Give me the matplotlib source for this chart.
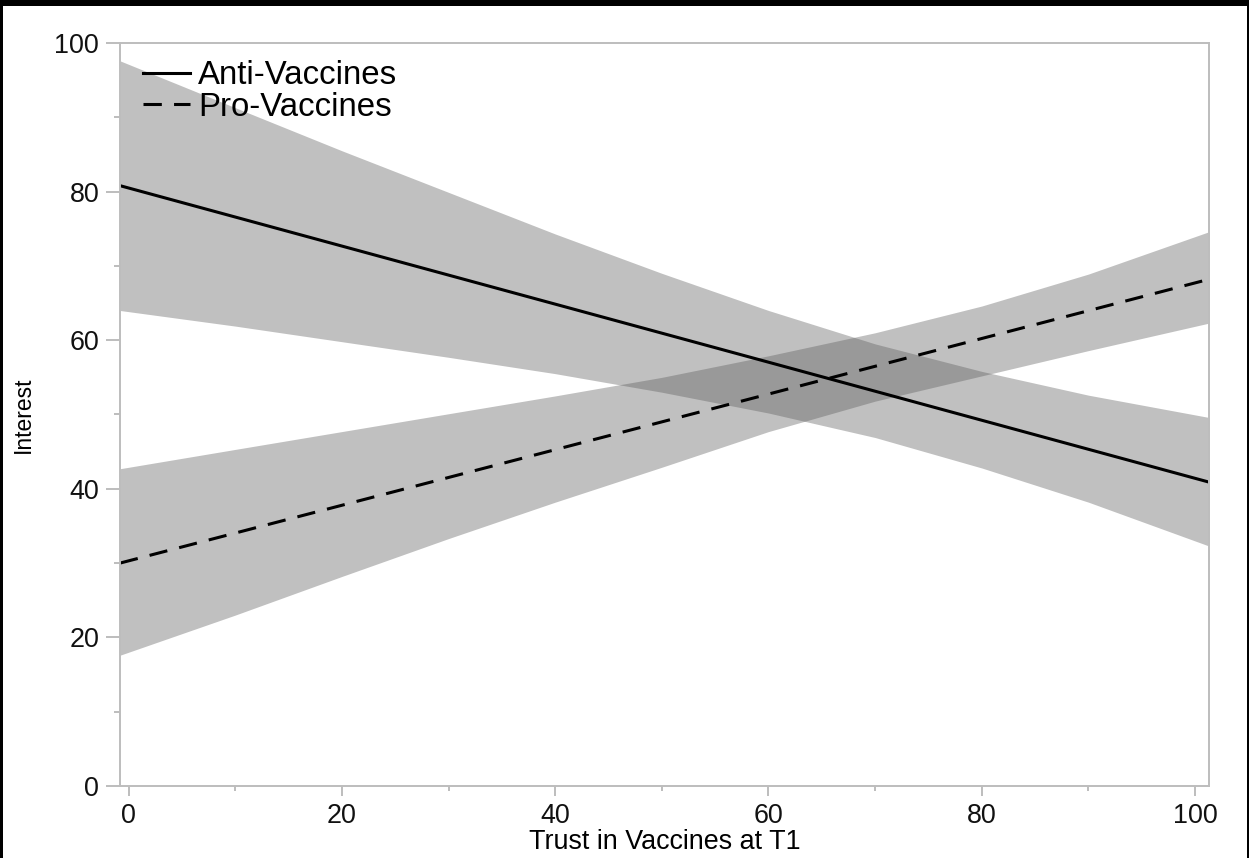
import numpy as np
import matplotlib
matplotlib.use('Agg')
import matplotlib.pyplot as plt
from matplotlib.patches import Rectangle
from matplotlib.ticker import MultipleLocator

plt.rcParams['font.family'] = ['Liberation Sans', 'DejaVu Sans']

# values
x_grid = [-0.8, 10, 20, 30, 40, 50, 60, 70, 80, 90, 101.3]

anti_upper = [97.6, 91.3, 85.5, 79.9, 74.3, 69.0, 64.0, 59.5, 55.8, 52.6, 49.6]
anti_lower = [64.0, 61.9, 59.8, 57.7, 55.5, 53.0, 50.2, 46.9, 42.8, 38.2, 32.3]
pro_upper = [42.7, 45.3, 47.7, 50.1, 52.5, 55.0, 57.9, 61.0, 64.6, 68.9, 74.6]
pro_lower = [17.6, 23.0, 28.2, 33.3, 38.2, 42.9, 47.7, 51.8, 55.2, 58.6, 62.3]

line_x = [-0.8, 101.3]
anti_line = [80.8, 40.9]
pro_line = [30.0, 68.2]

labels = ['Anti-Vaccines', 'Pro-Vaccines']

W, H = 1249, 858
fig = plt.figure(figsize=(W / 100, H / 100), dpi=100)
fig.patch.set_facecolor('black')
fig.patches.append(Rectangle((3 / W, 0), (1247 - 3) / W, 852 / H,
                             transform=fig.transFigure, facecolor='white',
                             edgecolor='none', zorder=-1))

ax = fig.add_axes([120 / W, 72 / H, (1209 - 120) / W, (786 - 43) / H])

band_col = '#5a5a5a'
ax.fill_between(x_grid, anti_lower, anti_upper, color=band_col, alpha=0.38, lw=0)
ax.fill_between(x_grid, pro_lower, pro_upper, color=band_col, alpha=0.38, lw=0)
ax.plot(line_x, anti_line, color='black', lw=2.2, label=labels[0])
ax.plot(line_x, pro_line, color='black', lw=2.2, ls=(0, (6, 4)), label=labels[1])

ax.set_xlim(-0.8, 101.3)
ax.set_ylim(0, 100)
ax.xaxis.set_major_locator(MultipleLocator(20))
ax.xaxis.set_minor_locator(MultipleLocator(10))
ax.yaxis.set_major_locator(MultipleLocator(20))
ax.yaxis.set_minor_locator(MultipleLocator(10))

spine_col = '#bdbdbd'
for s in ax.spines.values():
    s.set_color(spine_col)
    s.set_linewidth(1.4)
ax.tick_params(axis='both', which='both', direction='out', color=spine_col,
               width=1.4, labelsize=19.4, labelcolor='#111111')
ax.tick_params(axis='y', which='major', length=10, pad=5)
ax.tick_params(axis='y', which='minor', length=4.5)
ax.tick_params(axis='x', which='major', length=7.5, pad=5)
ax.tick_params(axis='x', which='minor', length=3.8)

ax.set_xlabel('Trust in Vaccines at T1', fontsize=19.4, labelpad=0)
ax.set_ylabel('Interest', fontsize=16.5, labelpad=14)

ax.legend(loc='upper left', bbox_to_anchor=(0.021, 0.977), frameon=False,
          fontsize=23.8, borderpad=0, borderaxespad=0, labelspacing=0.02,
          handlelength=1.42, handletextpad=0.25)

fig.savefig('out.png', dpi=100, facecolor=fig.get_facecolor())
